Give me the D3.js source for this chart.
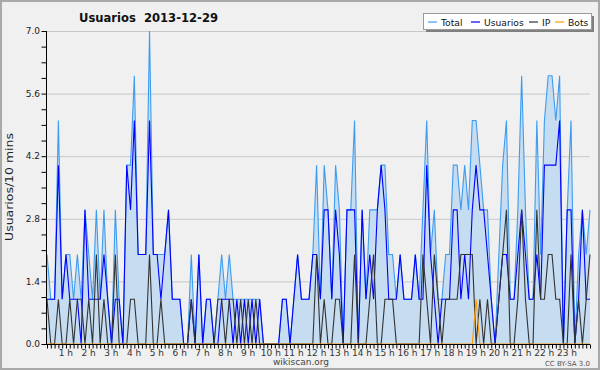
<!DOCTYPE html>
<html>
<head>
<meta charset="utf-8">
<script src="https://cdn.jsdelivr.net/npm/d3@7"></script>
<style>
  body { margin: 0; background: #f0f0f0; }
  svg { display: block; font-family: "DejaVu Sans", sans-serif; }
</style>
</head>
<body>
<svg id="chart" width="600" height="370"></svg>
<script>

// one value per 10 minutes, 00:00 .. 23:50
var total = [2,1,1,5,1,2,2,1,2,1, 3,2,1,3,1,3,1,0,3,1, 0,4,4,6,2,2,2,7,2,2,
             2,2,3,1,1,1,0,0,2,0, 2,0,1,1,0,1,2,1,2,1, 1,1,1,1,1,1,1,0,0,0,
             0,0,1,1,0,1,2,1,1,1, 2,4,1,4,3,1,4,3,0,3, 3,5,0,3,1,3,3,3,4,4,
             2,2,1,2,1,1,1,2,1,3, 5,2,3,1,1,2,2,4,4,3, 4,3,5,5,4,3,3,1,0,2,
             4,5,1,1,3,6,3,1,1,5, 2,5,6,6,5,6,0,3,5,0, 2,3,2,3];
var usuarios = [1,1,1,4,1,2,1,1,1,0, 3,1,1,1,1,2,1,0,1,1, 0,4,3,5,2,2,2,5,2,2,
                1,2,3,1,1,1,0,0,1,0, 2,0,1,1,0,0,1,1,1,0, 1,0,1,0,1,0,1,0,0,0,
                0,0,1,1,0,1,2,1,1,1, 2,2,1,3,3,1,3,2,0,3, 3,3,0,3,1,2,1,3,4,3,
                1,1,1,2,1,1,1,2,1,1, 4,2,1,0,1,1,1,3,3,1, 2,1,3,4,3,3,2,1,0,1,
                2,2,1,1,2,3,2,1,1,2, 1,4,4,4,4,5,0,3,3,0, 1,3,1,1];
var ip = [1,0,0,1,0,0,1,0,1,1, 0,1,0,2,0,1,0,0,2,0, 0,0,1,1,0,0,0,2,0,0,
          1,0,0,0,0,0,0,0,1,0, 0,0,0,0,0,1,1,0,1,1, 0,1,0,1,0,1,0,0,0,0,
          0,0,0,0,0,0,0,0,0,0, 0,2,0,1,0,0,1,1,0,0, 0,2,0,0,0,1,2,0,0,1,
          1,1,0,0,0,0,0,0,0,2, 1,0,2,1,0,1,1,1,1,2, 2,2,2,0,1,0,1,0,0,1,
          2,3,0,0,1,3,1,0,0,3, 1,1,2,2,1,1,0,0,2,0, 1,0,1,2];
var bots = [0,0,0,0,0,0,0,0,0,0, 0,0,0,0,0,0,0,0,0,0, 0,0,0,0,0,0,0,0,0,0,
            0,0,0,0,0,0,0,0,0,0, 0,0,0,0,0,0,0,0,0,0, 0,0,0,0,0,0,0,0,0,0,
            0,0,0,0,0,0,0,0,0,0, 0,0,0,0,0,0,0,0,0,0, 0,0,0,0,0,0,0,0,0,0,
            0,0,0,0,0,0,0,0,0,0, 0,0,0,0,0,0,0,0,0,0, 0,0,0,1,0,0,0,0,0,0,
            0,0,0,0,0,0,0,0,0,0, 0,0,0,0,0,0,0,0,0,0, 0,0,0,0];

var hourLabels = ["1 h","2 h","3 h","4 h","5 h","6 h","7 h","8 h","9 h","10 h","11 h","12 h",
                  "13 h","14 h","15 h","16 h","17 h","18 h","19 h","20 h","21 h","22 h","23 h"];
var yTicks = [0, 1.4, 2.8, 4.2, 5.6, 7.0];

var seriesNames = ["Total", "Usuarios", "IP", "Bots"];
var seriesColors = ["#3d9cf0", "#0000ff", "#333333", "#ff9900"];


var svg = d3.select("#chart");

var x = d3.scaleLinear().domain([0, total.length - 1]).range([47, 590]);
var y = d3.scaleLinear().domain([0, 7]).range([344, 31]);

// outer frame
svg.append("rect")
  .attr("x", 1).attr("y", 1).attr("width", 598).attr("height", 368)
  .attr("fill", "#f0f0f0").attr("stroke", "#a9a9a9").attr("stroke-width", 2);

// horizontal grid
svg.append("g")
  .attr("transform", "translate(46,0)")
  .call(d3.axisLeft(y).tickValues(yTicks.slice(1)).tickSize(-544).tickFormat(""))
  .call(function(g){
    g.select(".domain").remove();
    g.selectAll("line").attr("stroke", "#c8c8c8");
  });

// total area + lines
svg.append("path")
  .datum(total)
  .attr("fill", "#c5dcf1")
  .attr("d", d3.area().x(function(d, i){ return x(i); }).y0(y(0)).y1(function(d){ return y(d); }));

var line = d3.line().x(function(d, i){ return x(i); }).y(function(d){ return y(d); });

[total, usuarios, ip, bots].forEach(function(s, k){
  svg.append("path")
    .datum(s)
    .attr("fill", "none")
    .attr("stroke", seriesColors[k])
    .attr("stroke-width", 1.1)
    .attr("d", line);
});

// y axis: minor ticks every 0.35, labels every 1.4
var yAxis = svg.append("g")
  .attr("transform", "translate(46.5,0)")
  .call(d3.axisLeft(y).tickValues(d3.range(0, 7.01, 0.35)).tickSize(5).tickFormat(""))
  .call(function(g){ g.selectAll("line,path").attr("stroke", "#000"); });
yAxis.select(".domain").attr("d", "M0,31V344.5");

svg.append("g").selectAll("text")
  .data(yTicks)
  .enter().append("text")
  .attr("x", 40).attr("y", function(d){ return y(d); })
  .attr("dy", "0.35em")
  .attr("text-anchor", "end")
  .attr("font-size", 9).attr("fill", "#222")
  .text(function(d){ return d3.format(".1f")(d); });

// x axis: tick every 10 minutes
var xAxis = svg.append("g")
  .attr("transform", "translate(0,344.5)")
  .call(d3.axisBottom(x).tickValues(d3.range(0, total.length)).tickSize(4).tickSizeOuter(0).tickFormat(""))
  .call(function(g){ g.selectAll("line,path").attr("stroke", "#000"); });
xAxis.select(".domain").attr("d", "M46,0H590");

svg.append("g").selectAll("text")
  .data(hourLabels)
  .enter().append("text")
  .attr("x", function(d, i){ return x((i + 1) * 6) - 4; })
  .attr("y", 356)
  .attr("text-anchor", "middle")
  .attr("font-size", 9).attr("fill", "#333")
  .text(function(d){ return d; });

// titles
svg.append("text")
  .attr("x", 79).attr("y", 22)
  .attr("xml:space", "preserve")
  .style("white-space", "pre")
  .attr("font-size", 13).attr("font-weight", "bold").attr("fill", "#111")
  .attr("textLength", 139).attr("lengthAdjust", "spacingAndGlyphs")
  .text("Usuarios  2013-12-29");

svg.append("text")
  .attr("transform", "translate(13,187) rotate(-90)")
  .attr("text-anchor", "middle")
  .attr("font-size", 10.5).attr("fill", "#222")
  .attr("textLength", 108).attr("lengthAdjust", "spacingAndGlyphs")
  .text("Usuarios/10 mins");

svg.append("text")
  .attr("x", 301).attr("y", 365)
  .attr("text-anchor", "middle")
  .attr("font-size", 9).attr("fill", "#444")
  .text("wikiscan.org");

svg.append("text")
  .attr("x", 590).attr("y", 366)
  .attr("text-anchor", "end")
  .attr("font-size", 7).attr("fill", "#555")
  .text("CC BY-SA 3.0");

// legend
var legend = svg.append("g");
legend.append("rect")
  .attr("x", 426).attr("y", 16).attr("width", 168).attr("height", 16)
  .attr("fill", "#808080");
legend.append("rect")
  .attr("x", 423.5).attr("y", 13.5).attr("width", 168).attr("height", 16)
  .attr("fill", "#fff").attr("stroke", "#9a9a9a");

var legendX = [428, 471, 529, 555];
seriesNames.forEach(function(name, k){
  legend.append("line")
    .attr("x1", legendX[k]).attr("x2", legendX[k] + 9)
    .attr("y1", 22).attr("y2", 22)
    .attr("stroke", seriesColors[k]).attr("stroke-width", 1.2);
  legend.append("text")
    .attr("x", legendX[k] + 13).attr("y", 25.5)
    .attr("font-size", 9.2).attr("fill", "#111")
    .text(name);
});

</script>
</body>
</html>
